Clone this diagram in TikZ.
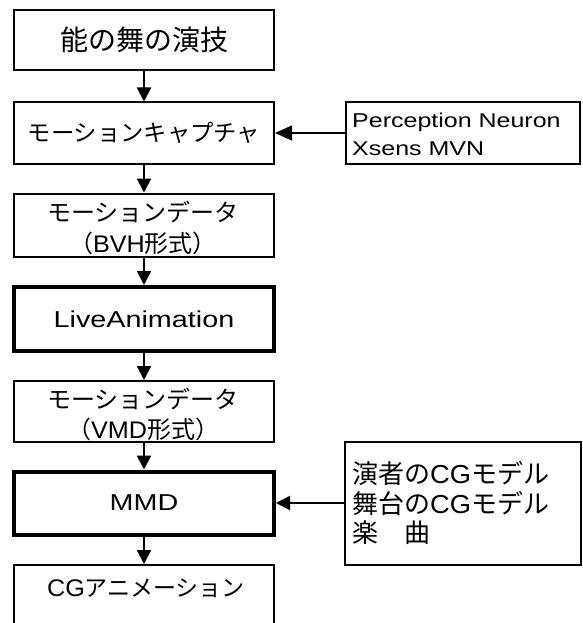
\documentclass[tikz,border=0pt]{standalone}
\usepackage{fontspec}
\usepackage{graphicx}
\setmainfont{Noto Sans CJK JP}
\newfontfamily\latfont{Liberation Sans}
\newcommand{\wlat}[1]{{\latfont\scalebox{1.25}[1]{#1}}}
\newcommand{\nlat}[1]{{\latfont\scalebox{1.05}[1]{#1}}}
\usetikzlibrary{arrows.meta}
\begin{document}
\begin{tikzpicture}[x=1pt,y=-1pt,
  box/.style={draw, line width=2pt, minimum width=260pt, inner sep=0pt, align=center},
  heavybox/.style={box, line width=4pt},
  sidebox/.style={draw, line width=2pt, inner sep=0pt},
  txt/.style={inner sep=0pt, align=center},
  arr/.style={line width=2pt, -{Triangle[width=14pt,length=14pt]}},
  thinarr/.style={line width=1.3pt, -{Triangle[width=15pt,length=17pt]}},
]
\useasboundingbox (0,0) rectangle (582,623);
\clip (0,0) rectangle (582,623);

% main column
\node[box, minimum height=60pt, font=\fontsize{28}{32}\selectfont] (n1) at (144,40) {能の舞の演技};
\node[box, minimum height=61pt, font=\fontsize{23.3}{28}\selectfont] (n2) at (144,133) {モーションキャプチャ};
\node[box, minimum height=63pt] (n3) at (144,225) {};
\node[txt, font=\fontsize{24}{31}\selectfont] (t3) at (143,228) {モーションデータ\\（{\fontsize{24}{31}\selectfont\nlat{BVH}}形式）};
\node[heavybox, minimum height=64pt, font=\fontsize{23}{28}\selectfont\latfont] (n4) at (144,319) {\scalebox{1.25}[1]{LiveAnimation}};
\node[box, minimum height=61pt] (n5) at (144,411.5) {};
\node[txt, font=\fontsize{24}{30}\selectfont] (t5) at (143,414) {モーションデータ\\（{\fontsize{24}{30}\selectfont\nlat{VMD}}形式）};
\node[heavybox, minimum height=63pt, font=\fontsize{23}{28}\selectfont\latfont] (n6) at (144,503) {\scalebox{1.25}[1]{MMD}};
\node[box, minimum height=70pt] (n7) at (144,600) {};
\node[txt, font=\fontsize{23}{28}\selectfont] (t7) at (146,588) {{\fontsize{24}{28}\selectfont\nlat{CG}}アニメーション};

% side boxes
\node[sidebox, minimum width=234pt, minimum height=61pt] (pn) at (463,133) {};
\node[inner sep=0pt, align=left, anchor=west, font=\fontsize{20}{28}\selectfont\latfont] (pnt) at (352,134)
  {\scalebox{1.25}[1]{Perception Neuron}\\\scalebox{1.25}[1]{Xsens MVN}};
\node[sidebox, minimum width=236pt, minimum height=123pt] (rb) at (463,503) {};
\node[inner sep=0pt, align=left, anchor=west, font=\fontsize{26}{29.5}\selectfont] (rbt) at (352,503)
  {演者の{\fontsize{26}{29.5}\selectfont\nlat{CG}}モデル\\舞台の{\fontsize{26}{29.5}\selectfont\nlat{CG}}モデル\\楽　曲};

% connectors
\draw[arr] (n1) -- (n2);
\draw[arr] (n2) -- (n3);
\draw[arr] (n3) -- (n4);
\draw[arr] (n4) -- (n5);
\draw[arr] (n5) -- (n6);
\draw[arr] (n6) -- (n7);
\draw[thinarr] (pn) -- (n2);
\draw[arr] (rb) -- (n6);
\end{tikzpicture}
\end{document}
